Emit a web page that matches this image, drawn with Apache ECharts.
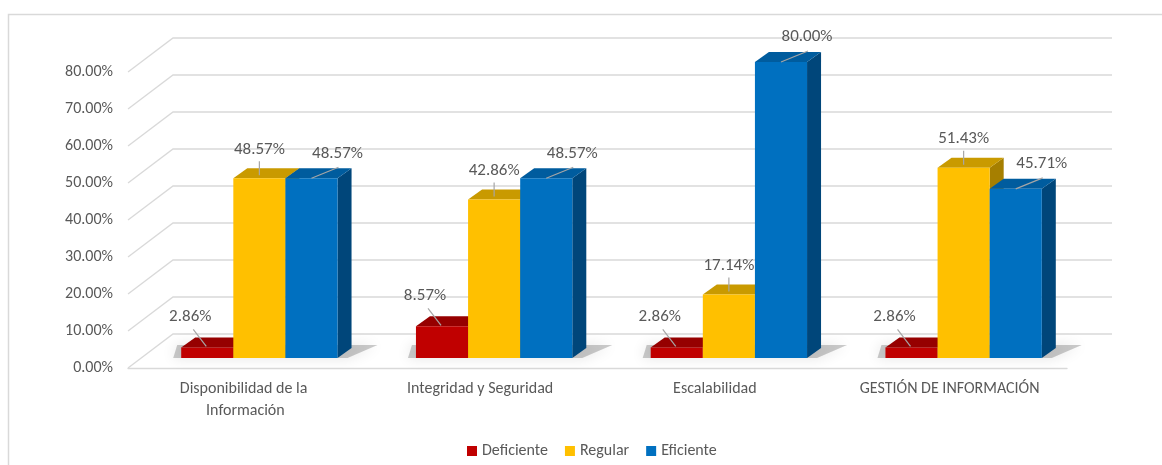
<!DOCTYPE html>
<html><head><meta charset="utf-8">
<script src="https://cdn.jsdelivr.net/npm/echarts@6/dist/echarts.min.js"></script>
<style>html,body{margin:0;padding:0;background:#fff}#c{width:1162px;height:465px}</style>
</head><body><div id="c"></div><script>
// ---- data ----
const categories = ['Disponibilidad de la Información', 'Integridad y Seguridad', 'Escalabilidad', 'GESTIÓN DE INFORMACIÓN'];
const seriesNames = ['Deficiente', 'Regular', 'Eficiente'];
const deficiente = [2.86, 8.57, 2.86, 2.86];
const regular = [48.57, 42.86, 17.14, 51.43];
const eficiente = [48.57, 48.57, 80.00, 45.71];
const yTicks = [0, 10, 20, 30, 40, 50, 60, 70, 80];

// ---- style / geometry constants ----
const FONT = 'Carlito, Calibri, Lato, sans-serif';
const TXT = '#595959';
const GRIDC = '#d9d9d9';
const WALL_DX = 45, WALL_DY = -34;   // back wall offset
const SX = 14, SY = -10;             // bar front plane offset
const DX = 14, DY = -10;             // bar depth
const BAR_FRAC = 0.222;
const palettes = [
  {front: '#C00000', top: '#960000', side: '#7F0000'},
  {front: '#FFC000', top: '#C99A00', side: '#A67F00'},
  {front: '#0070C0', top: '#005C9E', side: '#00467A'}
];
const labelGeom = [
  {tx: -17, ty: -31, l: [[-14, -18], [-1, -1]]},
  {tx: 0, ty: -29, l: [[0, -17], [0, -3]]},
  {tx: 26, ty: -25, l: [[27, -11], [0, 0]]}
];
const allValues = [deficiente, regular, eficiente];

function barGeom(api, k) {
  const ci = api.value(0), v = api.value(1);
  const p0 = api.coord([ci, 0]), p1 = api.coord([ci, v]);
  const band = api.size([1, 0])[0];
  const bw = band * BAR_FRAC;
  const x0 = p0[0] + SX + k * bw - bw / 2;
  return {x0: x0, x1: x0 + bw, yB: p0[1] + SY, yT: p1[1] + SY, bw: bw, v: v};
}

function makeBarRender(k, pal) {
  return function (params, api) {
    const g = barGeom(api, k);
    const {x0, x1, yB, yT} = g;
    return {type: 'group', children: [
      {type: 'polygon', shape: {points: [[x1, yT], [x1 + DX, yT + DY], [x1 + DX, yB + DY], [x1, yB]]}, style: {fill: pal.side}},
      {type: 'polygon', shape: {points: [[x0, yT], [x1, yT], [x1 + DX, yT + DY], [x0 + DX, yT + DY]]}, style: {fill: pal.top}},
      {type: 'rect', shape: {x: x0, y: yT, width: x1 - x0, height: yB - yT}, style: {fill: pal.front}}
    ]};
  };
}

function makeLabelRender(s) {
  const lg = labelGeom[s];
  const k = s - 1;
  return function (params, api) {
    const g = barGeom(api, k);
    const cx = (g.x0 + g.x1) / 2, cy = g.yT;
    return {type: 'group', children: [
      {type: 'line', shape: {x1: cx + lg.l[0][0], y1: cy + lg.l[0][1], x2: cx + lg.l[1][0], y2: cy + lg.l[1][1]},
        style: {stroke: '#A6A6A6', lineWidth: 1.2}},
      {type: 'text', x: cx + lg.tx, y: cy + lg.ty,
        style: {text: g.v.toFixed(2) + '%', fill: TXT, font: '17px ' + FONT, align: 'center', verticalAlign: 'middle'}}
    ]};
  };
}

function gridRender(params, api) {
  const cs = params.coordSys;
  const y = api.coord([0, api.value(1)])[1];
  const x = cs.x;
  return {type: 'polyline', shape: {points: [[x, y], [x + WALL_DX, y + WALL_DY], [x + cs.width + WALL_DX, y + WALL_DY]]},
    style: {stroke: GRIDC, lineWidth: 1.3, fill: null}};
}

function shadowRender(params, api) {
  const ci = api.value(0);
  const p0 = api.coord([ci, 0]);
  const band = api.size([1, 0])[0];
  const bw = band * BAR_FRAC;
  const xL = p0[0] + SX - 1.5 * bw, xR = p0[0] + SX + 1.5 * bw;
  const yB = p0[1] + SY;
  return {type: 'polygon', shape: {points: [[xL - 8, yB], [xR + 10, yB], [xR + DX + 26, yB + DY - 3], [xL + DX - 18, yB + DY - 3]]},
    style: {fill: 'rgba(0,0,0,0.2)', shadowBlur: 14, shadowColor: 'rgba(0,0,0,0.55)'}};
}

const series = [];
series.push({type: 'custom', name: 'grid', renderItem: gridRender, silent: true, z: 1,
  data: yTicks.map(t => [0, t]), encode: {x: 0, y: 1}});
series.push({type: 'custom', name: 'shadow', renderItem: shadowRender, silent: true, z: 2,
  data: categories.map((c, i) => [i, 0]), encode: {x: 0, y: 1}});
allValues.forEach((vals, s) => {
  series.push({type: 'custom', name: seriesNames[s], renderItem: makeBarRender(s - 1, palettes[s]), z: 3,
    itemStyle: {color: palettes[s].front},
    data: vals.map((v, i) => [i, v]), encode: {x: 0, y: 1}});
});
allValues.forEach((vals, s) => {
  series.push({type: 'custom', name: 'lbl' + s, renderItem: makeLabelRender(s), z: 5, silent: true,
    data: vals.map((v, i) => [i, v]), encode: {x: 0, y: 1}});
});

const chart = echarts.init(document.getElementById('c'), null, {renderer: 'canvas'});
chart.setOption({
  animation: false,
  backgroundColor: '#fff',
  textStyle: {fontFamily: FONT},
  graphic: [{type: 'rect', shape: {x: 8.5, y: 14.5, width: 1300, height: 600}, style: {fill: null, stroke: '#d9d9d9', lineWidth: 1.5}, silent: true}],
  grid: {left: 128, right: 95, top: 72, bottom: 97},
  legend: {data: seriesNames, left: 462, top: 438, icon: 'rect', itemWidth: 10, itemHeight: 10, itemGap: 17,
    textStyle: {color: TXT, fontSize: 16, fontFamily: FONT}},
  xAxis: {type: 'category', data: categories,
    axisLine: {lineStyle: {color: GRIDC, width: 1.3}}, axisTick: {show: false},
    axisLabel: {color: TXT, fontSize: 16, fontFamily: FONT, margin: 10, width: 215, overflow: 'break', lineHeight: 22, interval: 0,
      formatter: v => v}},
  yAxis: {type: 'value', min: 0, max: 80, interval: 10,
    axisLine: {show: false}, axisTick: {show: false}, splitLine: {show: false},
    axisLabel: {color: TXT, fontSize: 16, fontFamily: FONT, margin: 15, formatter: v => v.toFixed(2) + '%'}},
  series: series
});
</script></body></html>
